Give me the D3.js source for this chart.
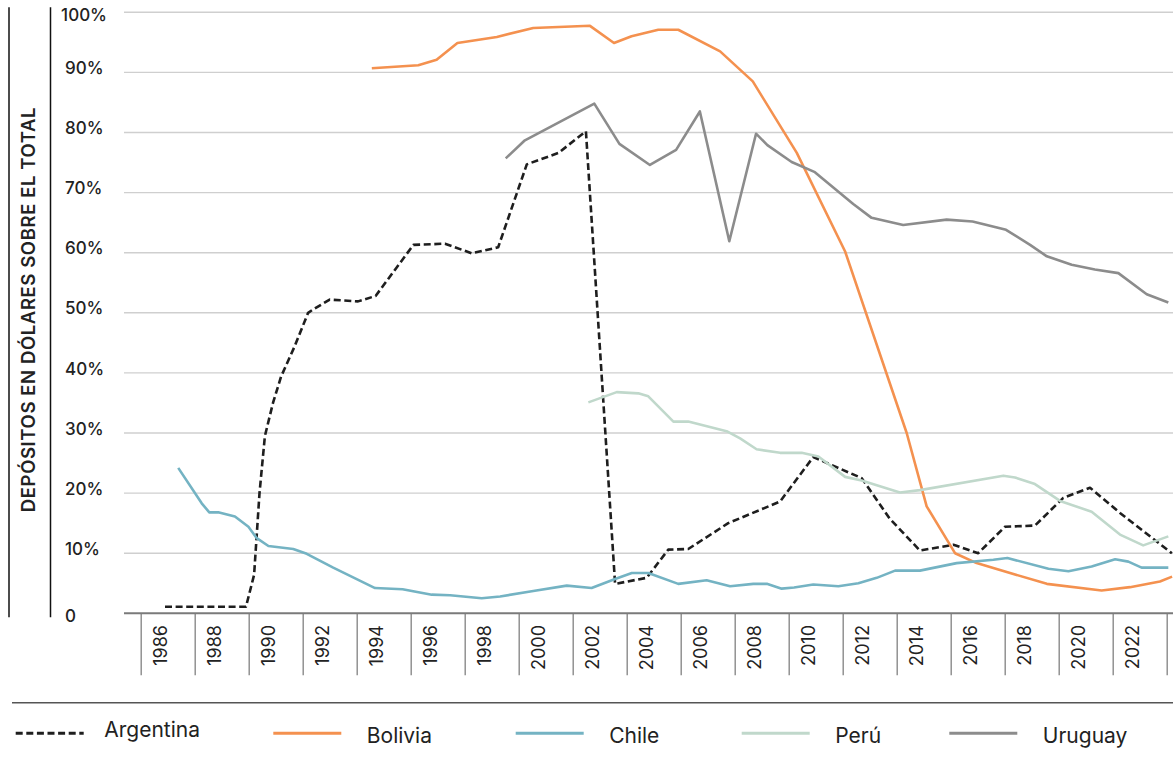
<!DOCTYPE html>
<html>
<head>
<meta charset="utf-8">
<script src="https://cdn.jsdelivr.net/npm/d3@7/dist/d3.min.js"></script>
<style>
  body { margin: 0; background: #fff; }
  text { font-family: Inter, "Noto Sans", sans-serif; fill: #222; }
</style>
</head>
<body>
<div id="chart"></div>
<script>
// Data: [year, % of deposits in dollars]
var argentina = [
  [1986.9, 1.1], [1989.9, 1.1], [1990.2, 6.4], [1990.4, 20], [1990.6, 29.5], [1990.9, 35],
  [1991.2, 39.4], [1991.7, 44.4], [1992.2, 50], [1992.4, 50.6], [1993.0, 52.2], [1994.05, 51.9],
  [1994.7, 52.8], [1996.1, 61.3], [1997.27, 61.5], [1998.26, 59.9], [1999.24, 60.9], [2000.3, 74.7],
  [2001.47, 76.6], [2002.49, 80.2], [2003.57, 4.9], [2004.74, 5.9], [2005.54, 10.6], [2006.28, 10.7],
  [2007.76, 15.0], [2009.68, 18.6], [2010.91, 26.0], [2012.7, 22.5], [2013.75, 15.7], [2014.86, 10.45],
  [2016.1, 11.4], [2017.02, 10.0], [2018.01, 14.4], [2019.12, 14.6], [2020.17, 19.2], [2021.16, 20.9],
  [2022.27, 16.7], [2024.19, 10.0]
];
var bolivia = [
  [1994.56, 90.7], [1996.28, 91.2], [1996.96, 92.1], [1997.73, 94.9], [1999.19, 95.9], [2000.54, 97.4],
  [2002.64, 97.75], [2003.53, 94.9], [2004.18, 96.0], [2005.17, 97.1], [2005.91, 97.1], [2007.46, 93.5],
  [2008.67, 88.5], [2010.3, 76.6], [2012.09, 60.2], [2014.37, 30.0], [2015.11, 17.8], [2016.16, 10.0],
  [2016.96, 8.35], [2019.56, 4.9], [2021.59, 3.8], [2022.64, 4.35], [2023.75, 5.3], [2024.2, 6.1]
];
var chile = [
  [1987.39, 24.2], [1988.26, 18.3], [1988.54, 16.8], [1988.87, 16.8], [1989.49, 16.1], [1989.99, 14.4],
  [1990.3, 12.5], [1990.73, 11.2], [1991.65, 10.7], [1992.15, 9.9], [1993.13, 7.6], [1994.68, 4.2],
  [1995.7, 4.0], [1996.78, 3.1], [1997.46, 3.0], [1998.63, 2.5], [1999.31, 2.8], [2000.54, 3.7],
  [2001.78, 4.6], [2002.7, 4.2], [2003.57, 5.7], [2004.19, 6.7], [2004.8, 6.7], [2005.91, 4.9],
  [2006.96, 5.5], [2007.83, 4.5], [2008.69, 4.9], [2009.19, 4.9], [2009.74, 4.1], [2010.2, 4.3],
  [2010.91, 4.8], [2011.84, 4.5], [2012.58, 5.0], [2013.26, 5.9], [2013.94, 7.1], [2014.86, 7.1],
  [2016.22, 8.35], [2017.58, 8.9], [2018.1, 9.2], [2019.62, 7.4], [2020.36, 7.0], [2021.22, 7.8],
  [2022.09, 9.0], [2022.58, 8.6], [2023.07, 7.6], [2024.06, 7.6]
];
var peru = [
  [2002.58, 35.1], [2003.63, 36.8], [2004.43, 36.6], [2004.8, 36.1], [2005.73, 31.9], [2006.28, 31.9],
  [2007.7, 30.3], [2008.2, 29.1], [2008.81, 27.3], [2009.68, 26.7], [2010.48, 26.7], [2011.1, 26.1],
  [2012.09, 22.7], [2012.7, 22.1], [2014.12, 20.1], [2014.86, 20.5], [2017.95, 22.9], [2018.38, 22.6],
  [2019.12, 21.5], [2020.05, 18.7], [2021.22, 16.9], [2022.27, 13.1], [2023.13, 11.3], [2024.06, 12.8]
];
var uruguay = [
  [1999.52, 75.7], [2000.23, 78.7], [2002.8, 84.8], [2003.73, 78.1], [2004.86, 74.6], [2005.83, 77.1],
  [2006.71, 83.5], [2007.8, 61.9], [2008.79, 79.8], [2009.21, 77.9], [2010.11, 75.1], [2010.97, 73.4],
  [2012.39, 68.1], [2013.07, 65.8], [2014.24, 64.6], [2015.85, 65.5], [2016.81, 65.2], [2018.05, 63.8],
  [2018.94, 61.3], [2019.56, 59.4], [2020.48, 58.0], [2021.34, 57.2], [2022.21, 56.6], [2023.26, 53.1],
  [2024.06, 51.7]
];

var countryNames = ["Argentina", "Bolivia", "Chile", "Perú", "Uruguay"];
var yTickValues = [0, 10, 20, 30, 40, 50, 60, 70, 80, 90, 100];
var yearLabels = d3.range(1986, 2023, 2);
var yTitle = "DEPÓSITOS EN DÓLARES SOBRE EL TOTAL";

// Styles / layout
var seriesStyle = [
  { data: argentina, color: "#1e1e1e", width: 2.6, dash: "7,3.6" },
  { data: bolivia, color: "#f4914f", width: 2.6, dash: null },
  { data: chile, color: "#74b3c3", width: 2.6, dash: null },
  { data: peru, color: "#c0d8cb", width: 2.6, dash: null },
  { data: uruguay, color: "#8c8c8c", width: 2.6, dash: null }
];
var legendLineX = [15.7, 273.3, 515.7, 741.7, 949.3];

var svgWidth = 1173;
var svgHeight = 770;
var plotLeft = 124, plotRight = 1173;

var svg = d3.select("#chart")
  .append("svg")
  .attr("width", svgWidth)
  .attr("height", svgHeight);

var xScale = d3.scaleLinear().domain([1986, 2024]).range([140.7, 1166.7]);
var yScale = d3.scaleLinear().domain([0, 100]).range([613.3, 12.3]);

// gridlines
svg.append("g")
  .selectAll("line")
  .data(yTickValues.filter(d => d > 0))
  .enter()
  .append("line")
  .attr("x1", plotLeft)
  .attr("x2", plotRight)
  .attr("y1", d => yScale(d))
  .attr("y2", d => yScale(d))
  .attr("stroke", "#cfcfcf")
  .attr("stroke-width", 1.4);

// y labels
svg.append("g")
  .selectAll("text")
  .data(yTickValues)
  .enter()
  .append("text")
  .attr("x", d => d === 100 ? 107 : 65)
  .attr("y", d => (d === 0 || d === 100) ? yScale(d) + 3 : yScale(d) - 4.5)
  .attr("dy", "0.36em")
  .attr("text-anchor", d => d === 100 ? "end" : "start")
  .attr("font-size", 17)
  .attr("font-weight", 500)
  .text(d => d === 0 ? "0" : d + "%");

// x dividers (every 2 years)
var xAxis = d3.axisBottom(xScale)
  .tickValues(d3.range(1986, 2025, 2))
  .tickSize(62)
  .tickSizeOuter(0)
  .tickFormat("");

var xAxisG = svg.append("g")
  .attr("transform", `translate(0, ${yScale(0)})`)
  .call(xAxis);
xAxisG.select(".domain").remove();
xAxisG.selectAll(".tick line").attr("stroke", "#8a8a8a").attr("stroke-width", 1.4);

svg.append("line")
  .attr("x1", plotLeft)
  .attr("x2", plotRight)
  .attr("y1", yScale(0))
  .attr("y2", yScale(0))
  .attr("stroke", "#7a7a7a")
  .attr("stroke-width", 2);

// year labels
svg.append("g")
  .selectAll("text")
  .data(yearLabels)
  .enter()
  .append("text")
  .attr("transform", d => `translate(${xScale(d + 1) - 1}, 625) rotate(-90)`)
  .attr("text-anchor", "end")
  .attr("font-size", 18)
  .text(d => d);

// lines
var line = d3.line()
  .x(d => xScale(d[0]))
  .y(d => yScale(d[1]));

svg.append("g")
  .selectAll("path")
  .data(seriesStyle)
  .enter()
  .append("path")
  .attr("d", d => line(d.data))
  .attr("fill", "none")
  .attr("stroke", d => d.color)
  .attr("stroke-width", d => d.width)
  .attr("stroke-dasharray", d => d.dash)
  .attr("stroke-linejoin", "round");

// y axis title with frame lines
svg.append("line").attr("x1", 9).attr("x2", 9).attr("y1", 7.3).attr("y2", 617.3)
  .attr("stroke", "#111").attr("stroke-width", 1.5);
svg.append("line").attr("x1", 50.5).attr("x2", 50.5).attr("y1", 7.3).attr("y2", 617.3)
  .attr("stroke", "#111").attr("stroke-width", 1.5);
svg.append("text")
  .attr("transform", "translate(35, 309.5) rotate(-90)")
  .attr("text-anchor", "middle")
  .attr("font-size", 18.5)
  .attr("font-weight", 600)
  .attr("letter-spacing", 0.6)
  .text(yTitle);

// separator above legend
svg.append("line")
  .attr("x1", 12).attr("x2", 1173)
  .attr("y1", 702.7).attr("y2", 702.7)
  .attr("stroke", "#555").attr("stroke-width", 1.5);

// legend
var legend = svg.append("g")
  .selectAll("g")
  .data(countryNames)
  .enter()
  .append("g");

legend.append("line")
  .attr("x1", (d, i) => legendLineX[i])
  .attr("x2", (d, i) => legendLineX[i] + 68)
  .attr("y1", 733.3)
  .attr("y2", 733.3)
  .attr("stroke", (d, i) => seriesStyle[i].color)
  .attr("stroke-width", 3)
  .attr("stroke-dasharray", (d, i) => seriesStyle[i].dash);

legend.append("text")
  .attr("x", (d, i) => legendLineX[i] + (i === 0 ? 88.6 : 93.5))
  .attr("y", (d, i) => i === 0 ? 737.3 : 742.5)
  .attr("font-size", 21)
  .text(d => d);
</script>
</body>
</html>
